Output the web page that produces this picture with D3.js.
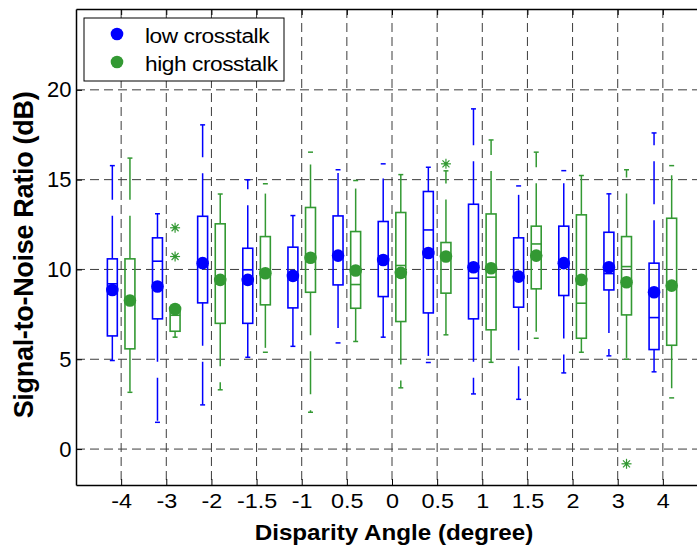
<!DOCTYPE html>
<html>
<head>
<meta charset="utf-8">
<script src="https://cdn.jsdelivr.net/npm/d3@7"></script>
<style>
  body { margin: 0; background: #fff; }
  svg { display: block; font-family: "Liberation Sans", Arial, sans-serif; }
  .grid line { stroke: #3c3c3c; stroke-width: 1; stroke-dasharray: 9,5; }
  .axis path, .axis line { stroke: #000; }
  .axis path { stroke-width: 1.5; }
</style>
</head>
<body>
<div id="container"></div>
<script>
// disparity angle categories (as printed on the chart)
var categories = ["-4", "-3", "-2", "-1.5", "-1", "0.5", "0", "0.5", "1", "1.5", "2", "3", "4"];
var yTicks = [0, 5, 10, 15, 20];

// low crosstalk (blue) box statistics, dB
var lowMin  = [4.93, 1.49, 2.46, 5.11, 5.72, 5.91, 6.23, 4.82, 3.07, 2.77, 4.24, 5.19, 4.30];
var lowQ1   = [6.30, 7.25, 8.14, 7.00, 7.86, 9.14, 8.49, 7.58, 7.25, 7.90, 8.55, 8.86, 5.54];
var lowMed  = [9.20, 10.46, 10.50, 9.98, 9.60, 10.80, 10.50, 12.20, 9.51, 9.60, 10.30, 9.77, 7.32];
var lowQ3   = [10.59, 11.76, 12.96, 11.18, 11.24, 12.98, 12.67, 14.34, 13.63, 11.76, 12.41, 12.07, 10.35];
var lowMax  = [15.78, 13.10, 18.05, 14.99, 13.00, 15.55, 15.88, 15.69, 18.94, 14.65, 15.50, 14.21, 17.60];
var lowMean = [8.86, 9.05, 10.35, 9.42, 9.64, 10.77, 10.53, 10.92, 10.12, 9.60, 10.35, 10.12, 8.73];

// high crosstalk (green) box statistics, dB
var highMin  = [3.16, 6.23, 3.30, 5.39, 2.05, 5.99, 3.41, 6.36, 4.83, 6.17, 5.39, 5.00, 2.85];
var highQ1   = [5.58, 6.56, 7.00, 8.03, 8.73, 7.84, 7.10, 8.68, 6.64, 8.92, 6.17, 7.47, 5.78];
var highMed  = [8.30, 7.45, 9.40, 9.80, 10.60, 9.16, 10.22, 10.70, 9.57, 11.42, 8.12, 10.16, 9.10];
var highQ3   = [10.59, 7.70, 12.54, 11.83, 13.45, 12.11, 13.17, 11.50, 13.09, 12.41, 13.04, 11.83, 12.85];
var highMax  = [16.20, 7.90, 14.20, 14.77, 16.53, 14.95, 15.28, 15.49, 17.21, 16.53, 15.23, 15.55, 15.78];
var highMean = [8.27, 7.80, 9.42, 9.79, 10.65, 9.94, 9.81, 10.72, 10.07, 10.77, 9.42, 9.29, 9.10];

// outliers of the high crosstalk series: [category index, value]
var highOutliers = [[1, 12.32], [1, 10.72], [7, 15.88], [11, -0.82]];

var width = 697, height = 548;
var plotL = 76, plotR = 708, plotT = 9, plotB = 485;
var blue = "#0000ff", green = "#339933";

var svg = d3.select("#container").append("svg")
    .attr("width", width)
    .attr("height", height);

var x = d3.scaleLinear().domain([0, 14]).range([plotL, plotR]);
var y = d3.scaleLinear().domain([-2, 24.5]).range([plotB, plotT]);

// grid
var grid = svg.append("g").attr("class", "grid");
grid.selectAll("line.h").data(yTicks).enter().append("line")
    .attr("x1", plotL).attr("x2", plotR)
    .attr("y1", function(d) { return y(d); })
    .attr("y2", function(d) { return y(d); });
grid.selectAll("line.v").data(categories).enter().append("line")
    .attr("y1", plotT).attr("y2", plotB)
    .attr("x1", function(d, i) { return x(i + 1); })
    .attr("x2", function(d, i) { return x(i + 1); });

function series(name, color, offset, mn, q1, med, q3, mx, mean) {
  var boxW = 0.11, capW = 0.055;
  var rows = categories.map(function(c, i) {
    return {i: i, pos: i + 1 + offset, min: mn[i], q1: q1[i], med: med[i], q3: q3[i], max: mx[i], mean: mean[i]};
  });
  var g = svg.append("g").attr("class", name)
      .selectAll("g").data(rows).enter().append("g");

  g.append("rect")
      .attr("x", function(d) { return x(d.pos - boxW); })
      .attr("width", function(d) { return x(d.pos + boxW) - x(d.pos - boxW); })
      .attr("y", function(d) { return y(d.q3); })
      .attr("height", function(d) { return y(d.q1) - y(d.q3); })
      .attr("fill", "none")
      .attr("stroke", color)
      .attr("stroke-width", 1.6);

  g.append("line")
      .attr("x1", function(d) { return x(d.pos - boxW); })
      .attr("x2", function(d) { return x(d.pos + boxW); })
      .attr("y1", function(d) { return y(d.med); })
      .attr("y2", function(d) { return y(d.med); })
      .attr("stroke", color).attr("stroke-width", 1.6);

  // whiskers drawn outward from the box
  g.append("line")
      .attr("x1", function(d) { return x(d.pos); })
      .attr("x2", function(d) { return x(d.pos); })
      .attr("y1", function(d) { return y(d.q3); })
      .attr("y2", function(d) { return y(d.max); })
      .attr("stroke", color).attr("stroke-width", 1.5)
      .attr("stroke-dasharray", "43,16");
  g.append("line")
      .attr("x1", function(d) { return x(d.pos); })
      .attr("x2", function(d) { return x(d.pos); })
      .attr("y1", function(d) { return y(d.q1); })
      .attr("y2", function(d) { return y(d.min); })
      .attr("stroke", color).attr("stroke-width", 1.5)
      .attr("stroke-dasharray", "43,16");

  ["max", "min"].forEach(function(k) {
    g.append("line")
        .attr("x1", function(d) { return x(d.pos - capW); })
        .attr("x2", function(d) { return x(d.pos + capW); })
        .attr("y1", function(d) { return y(d[k]); })
        .attr("y2", function(d) { return y(d[k]); })
        .attr("stroke", color).attr("stroke-width", 1.5);
  });

  g.append("circle")
      .attr("cx", function(d) { return x(d.pos); })
      .attr("cy", function(d) { return y(d.mean); })
      .attr("r", 6.3)
      .attr("fill", color);
}

series("low", blue, -0.195, lowMin, lowQ1, lowMed, lowQ3, lowMax, lowMean);
series("high", green, 0.195, highMin, highQ1, highMed, highQ3, highMax, highMean);

// outlier asterisks
var star = svg.append("g").selectAll("g").data(highOutliers).enter().append("g")
    .attr("transform", function(d) { return "translate(" + x(d[0] + 1 + 0.195) + "," + y(d[1]) + ")"; })
    .attr("stroke", green).attr("stroke-width", 1.2);
[[-5, 0, 5, 0], [0, -5, 0, 5], [-3.5, -3.5, 3.5, 3.5], [-3.5, 3.5, 3.5, -3.5]].forEach(function(s) {
  star.append("line").attr("x1", s[0]).attr("y1", s[1]).attr("x2", s[2]).attr("y2", s[3]);
});
star.append("circle").attr("r", 1.8).attr("fill", green).attr("stroke", "none");

// axes
var xAxis = svg.append("g").attr("class", "axis")
    .attr("transform", "translate(0," + plotB + ")")
    .call(d3.axisBottom(x)
      .tickValues(d3.range(1, categories.length + 1))
      .tickFormat(function(d) { return categories[d - 1]; })
      .tickSizeInner(-6).tickSizeOuter(0).tickPadding(9.5));
xAxis.selectAll("text")
    .attr("font-size", 19.5).attr("fill", "#000")
    .attr("transform", "scale(1.2,1)");

var yAxis = svg.append("g").attr("class", "axis")
    .attr("transform", "translate(" + plotL + ",0)")
    .call(d3.axisLeft(y).tickValues(yTicks)
      .tickSizeInner(-6).tickSizeOuter(0).tickPadding(4.5));
yAxis.selectAll("text").attr("font-size", 22).attr("fill", "#000");

var topAxis = svg.append("g").attr("class", "axis")
    .attr("transform", "translate(0," + plotT + ")")
    .call(d3.axisTop(x).tickValues(d3.range(1, categories.length + 1))
      .tickFormat("").tickSizeInner(-6).tickSizeOuter(0));

// legend
var legend = svg.append("g");
legend.append("rect")
    .attr("x", 84).attr("y", 18).attr("width", 200).attr("height", 63)
    .attr("fill", "#fff").attr("stroke", "#000").attr("stroke-width", 1);
var legendItems = [["low crosstalk", blue], ["high crosstalk", green]];
legendItems.forEach(function(it, k) {
  var cy = 34 + k * 28;
  legend.append("circle").attr("cx", 117).attr("cy", cy).attr("r", 6.3).attr("fill", it[1]);
  legend.append("text")
      .attr("transform", "translate(145," + (cy + 9) + ") scale(1.08,1)")
      .attr("font-size", 21).attr("letter-spacing", -0.4)
      .text(it[0]);
});

// axis titles
svg.append("text")
    .attr("transform", "translate(394,540) scale(1.1,1)")
    .attr("text-anchor", "middle")
    .attr("font-size", 22).attr("font-weight", "bold")
    .text("Disparity Angle (degree)");
svg.append("text")
    .attr("transform", "translate(33,255) rotate(-90)")
    .attr("text-anchor", "middle")
    .attr("font-size", 27).attr("font-weight", "bold")
    .attr("letter-spacing", -0.3)
    .text("Signal-to-Noise Ratio (dB)");
</script>
</body>
</html>
